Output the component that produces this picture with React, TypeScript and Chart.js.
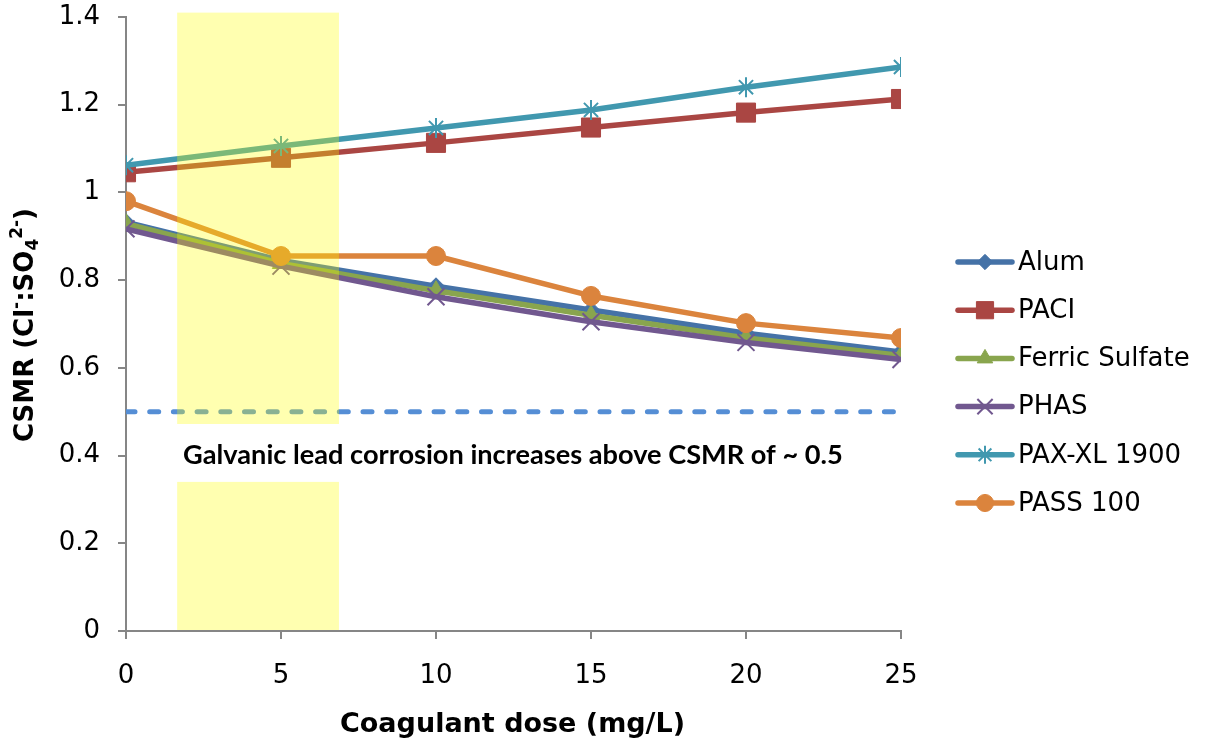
import React, { useEffect, useRef } from 'react';
import { Chart, registerables } from 'chart.js';
import { drawPoint } from 'chart.js/helpers';

Chart.register(...registerables);

// ---- data ----
const doseLevels = [0, 5, 10, 15, 20, 25];
const alumCsmr = [0.932, 0.845, 0.786, 0.732, 0.679, 0.636];
const paciCsmr = [1.046, 1.079, 1.113, 1.148, 1.182, 1.213];
const ferricCsmr = [0.929, 0.838, 0.776, 0.72, 0.668, 0.628];
const phasCsmr = [0.917, 0.832, 0.762, 0.705, 0.658, 0.619];
const paxCsmr = [1.062, 1.106, 1.147, 1.188, 1.24, 1.286];
const passCsmr = [0.98, 0.855, 0.855, 0.764, 0.702, 0.668];
const seriesLabels = ['Alum', 'PACI', 'Ferric Sulfate', 'PHAS', 'PAX-XL 1900', 'PASS 100'];

const thresholdDose = [0, 25];
const thresholdCsmr = [0.5, 0.5];
const highlightDose = [1.65, 6.87];
const highlightCsmr = [0, 1.41];
const noteGapCsmr = [0.34, 0.472];
const noteDose = 1.84;
const noteCsmr = 0.401;
const noteText = 'Galvanic lead corrosion increases above CSMR of ~ 0.5';
const xAxisTitle = 'Coagulant dose (mg/L)';

// ---- styles ----
const seriesColors = ['#4572A7', '#AA4643', '#89A54E', '#71588F', '#4198AF', '#DB843D'];
const seriesMarkers = ['rectRot', 'rect', 'triangle', 'crossRot', 'star', 'circle'];
const markerRadius = [8.5, 13.5, 10, 12, 10, 9.5];
const markerBorder = [1, 1, 1, 2, 2, 1];

const FONT = '"DejaVu Sans", Verdana, sans-serif';

const decorPlugin = {
  id: 'decor',
  afterDatasetsDraw(chart: any) {
    const { ctx, chartArea, scales } = chart;
    const x = scales.x;
    const y = scales.y;
    ctx.save();
    const x0 = x.getPixelForValue(highlightDose[0]);
    const x1 = x.getPixelForValue(highlightDose[1]);
    const yTop = y.getPixelForValue(highlightCsmr[1]);
    const yBot = chartArea.bottom - 1;
    ctx.fillStyle = 'rgba(255,255,0,0.31)';
    ctx.fillRect(x0, yTop, x1 - x0, yBot - yTop);
    const gTop = y.getPixelForValue(noteGapCsmr[1]);
    const gBot = y.getPixelForValue(noteGapCsmr[0]);
    ctx.fillStyle = '#ffffff';
    ctx.fillRect(x0 - 1, gTop, x1 - x0 + 2, gBot - gTop);
    ctx.fillStyle = '#000000';
    ctx.font = 'bold 26px Lato, "Open Sans", sans-serif';
    const w = ctx.measureText(noteText).width;
    const size = 26 * 660 / w;
    ctx.font = `bold ${size.toFixed(2)}px Lato, "Open Sans", sans-serif`;
    ctx.textBaseline = 'middle';
    ctx.textAlign = 'left';
    ctx.fillText(noteText, x.getPixelForValue(noteDose), y.getPixelForValue(noteCsmr));
    ctx.restore();
  },
  afterDraw(chart: any) {
    const { ctx, chartArea } = chart;
    ctx.save();
    // legend
    const lx0 = 958, lx1 = 1012, mx = 985, tx = 1018, ly0 = 262, lstep = 48.2;
    seriesLabels.forEach((lab, i) => {
      const yy = ly0 + i * lstep;
      ctx.strokeStyle = seriesColors[i];
      ctx.lineWidth = 5.5;
      ctx.lineCap = 'round';
      ctx.beginPath();
      ctx.moveTo(lx0, yy);
      ctx.lineTo(lx1, yy);
      ctx.stroke();
      ctx.lineCap = 'butt';
      ctx.fillStyle = seriesColors[i];
      ctx.lineWidth = markerBorder[i];
      drawPoint(ctx, { pointStyle: seriesMarkers[i], radius: markerRadius[i] * 0.9, borderWidth: markerBorder[i], rotation: 0 } as any, mx, yy);
      ctx.fillStyle = '#000000';
      ctx.font = `26px ${FONT}`;
      ctx.textBaseline = 'middle';
      ctx.textAlign = 'left';
      ctx.fillText(lab, tx, yy + 1);
    });

    // x title
    ctx.fillStyle = '#000000';
    ctx.font = `bold 27px ${FONT}`;
    ctx.textAlign = 'center';
    ctx.textBaseline = 'middle';
    ctx.fillText(xAxisTitle, (chartArea.left + chartArea.right) / 2 - 1, 725);

    // y title with sub/superscripts
    const big = `bold 26px ${FONT}`;
    const small = `bold 17px ${FONT}`;
    const segs: [string, string, number][] = [
      ['CSMR (Cl', big, 0],
      ['-', small, -11],
      [':SO', big, 0],
      ['4', small, 5],
      ['2-', small, -11],
      [')', big, 0],
    ];
    let total = 0;
    const widths = segs.map(([t, f]) => {
      ctx.font = f;
      const ww = ctx.measureText(t).width;
      total += ww;
      return ww;
    });
    ctx.translate(33, (chartArea.top + chartArea.bottom) / 2 + 1);
    ctx.rotate(-Math.PI / 2);
    ctx.textAlign = 'left';
    ctx.textBaseline = 'alphabetic';
    let cx = -total / 2;
    segs.forEach(([t, f, dy], i) => {
      ctx.font = f;
      ctx.fillText(t, cx, dy);
      cx += widths[i];
    });
    ctx.restore();
  },
};

export default function App() {
  const ref = useRef<HTMLCanvasElement>(null);
  useEffect(() => {
    document.body.style.margin = '0';
    const canvas = ref.current;
    if (!canvas) return;
    const seriesData = [alumCsmr, paciCsmr, ferricCsmr, phasCsmr, paxCsmr, passCsmr];
    const datasets: any[] = seriesData.map((vals, i) => ({
      label: seriesLabels[i],
      data: doseLevels.map((d, j) => ({ x: d, y: vals[j] })),
      borderColor: seriesColors[i],
      backgroundColor: seriesColors[i],
      borderWidth: 5.5,
      borderJoinStyle: 'round',
      pointStyle: seriesMarkers[i],
      pointRadius: markerRadius[i],
      pointBorderWidth: markerBorder[i],
      pointBackgroundColor: seriesColors[i],
      pointBorderColor: seriesColors[i],
      tension: 0,
      order: seriesData.length - i,
    }));
    datasets.push({
      label: 'threshold',
      data: thresholdDose.map((d, j) => ({ x: d, y: thresholdCsmr[j] })),
      borderColor: '#558ED5',
      borderWidth: 5,
      borderDash: [9, 14.7],
      borderCapStyle: 'round',
      pointRadius: 0,
      tension: 0,
      order: 20,
    });

    const zeroPad = (s: any) => {
      s.paddingTop = 0;
      s.paddingBottom = 0;
      s.paddingLeft = 0;
      s.paddingRight = 0;
    };

    const chart = new Chart(canvas, {
      type: 'line',
      data: { datasets },
      plugins: [decorPlugin],
      options: {
        responsive: false,
        animation: false,
        devicePixelRatio: 1,
        layout: { padding: { left: 0, right: 311, top: 17, bottom: 0 } },
        plugins: { legend: { display: false }, tooltip: { enabled: false }, title: { display: false } },
        scales: {
          x: {
            type: 'linear',
            min: 0,
            max: 25,
            ticks: { stepSize: 5, color: '#000', font: { family: FONT, size: 26 }, padding: 22 },
            grid: { drawOnChartArea: false, drawTicks: true, tickLength: 8, color: '#868686', lineWidth: 2 },
            border: { color: '#868686', width: 2 },
            afterFit: (s: any) => { s.height = 114; zeroPad(s); },
          },
          y: {
            min: 0,
            max: 1.4,
            ticks: {
              stepSize: 0.2,
              color: '#000',
              font: { family: FONT, size: 26 },
              padding: 18,
              callback: (v: any) => String(Number(Number(v).toFixed(1))),
            },
            grid: { drawOnChartArea: false, drawTicks: true, tickLength: 8, color: '#868686', lineWidth: 2 },
            border: { color: '#868686', width: 2 },
            afterFit: (s: any) => { s.width = 126; zeroPad(s); },
          },
        },
      } as any,
    });
    return () => chart.destroy();
  }, []);
  return <canvas ref={ref} width={1212} height={745} style={{ display: 'block' }} />;
}
